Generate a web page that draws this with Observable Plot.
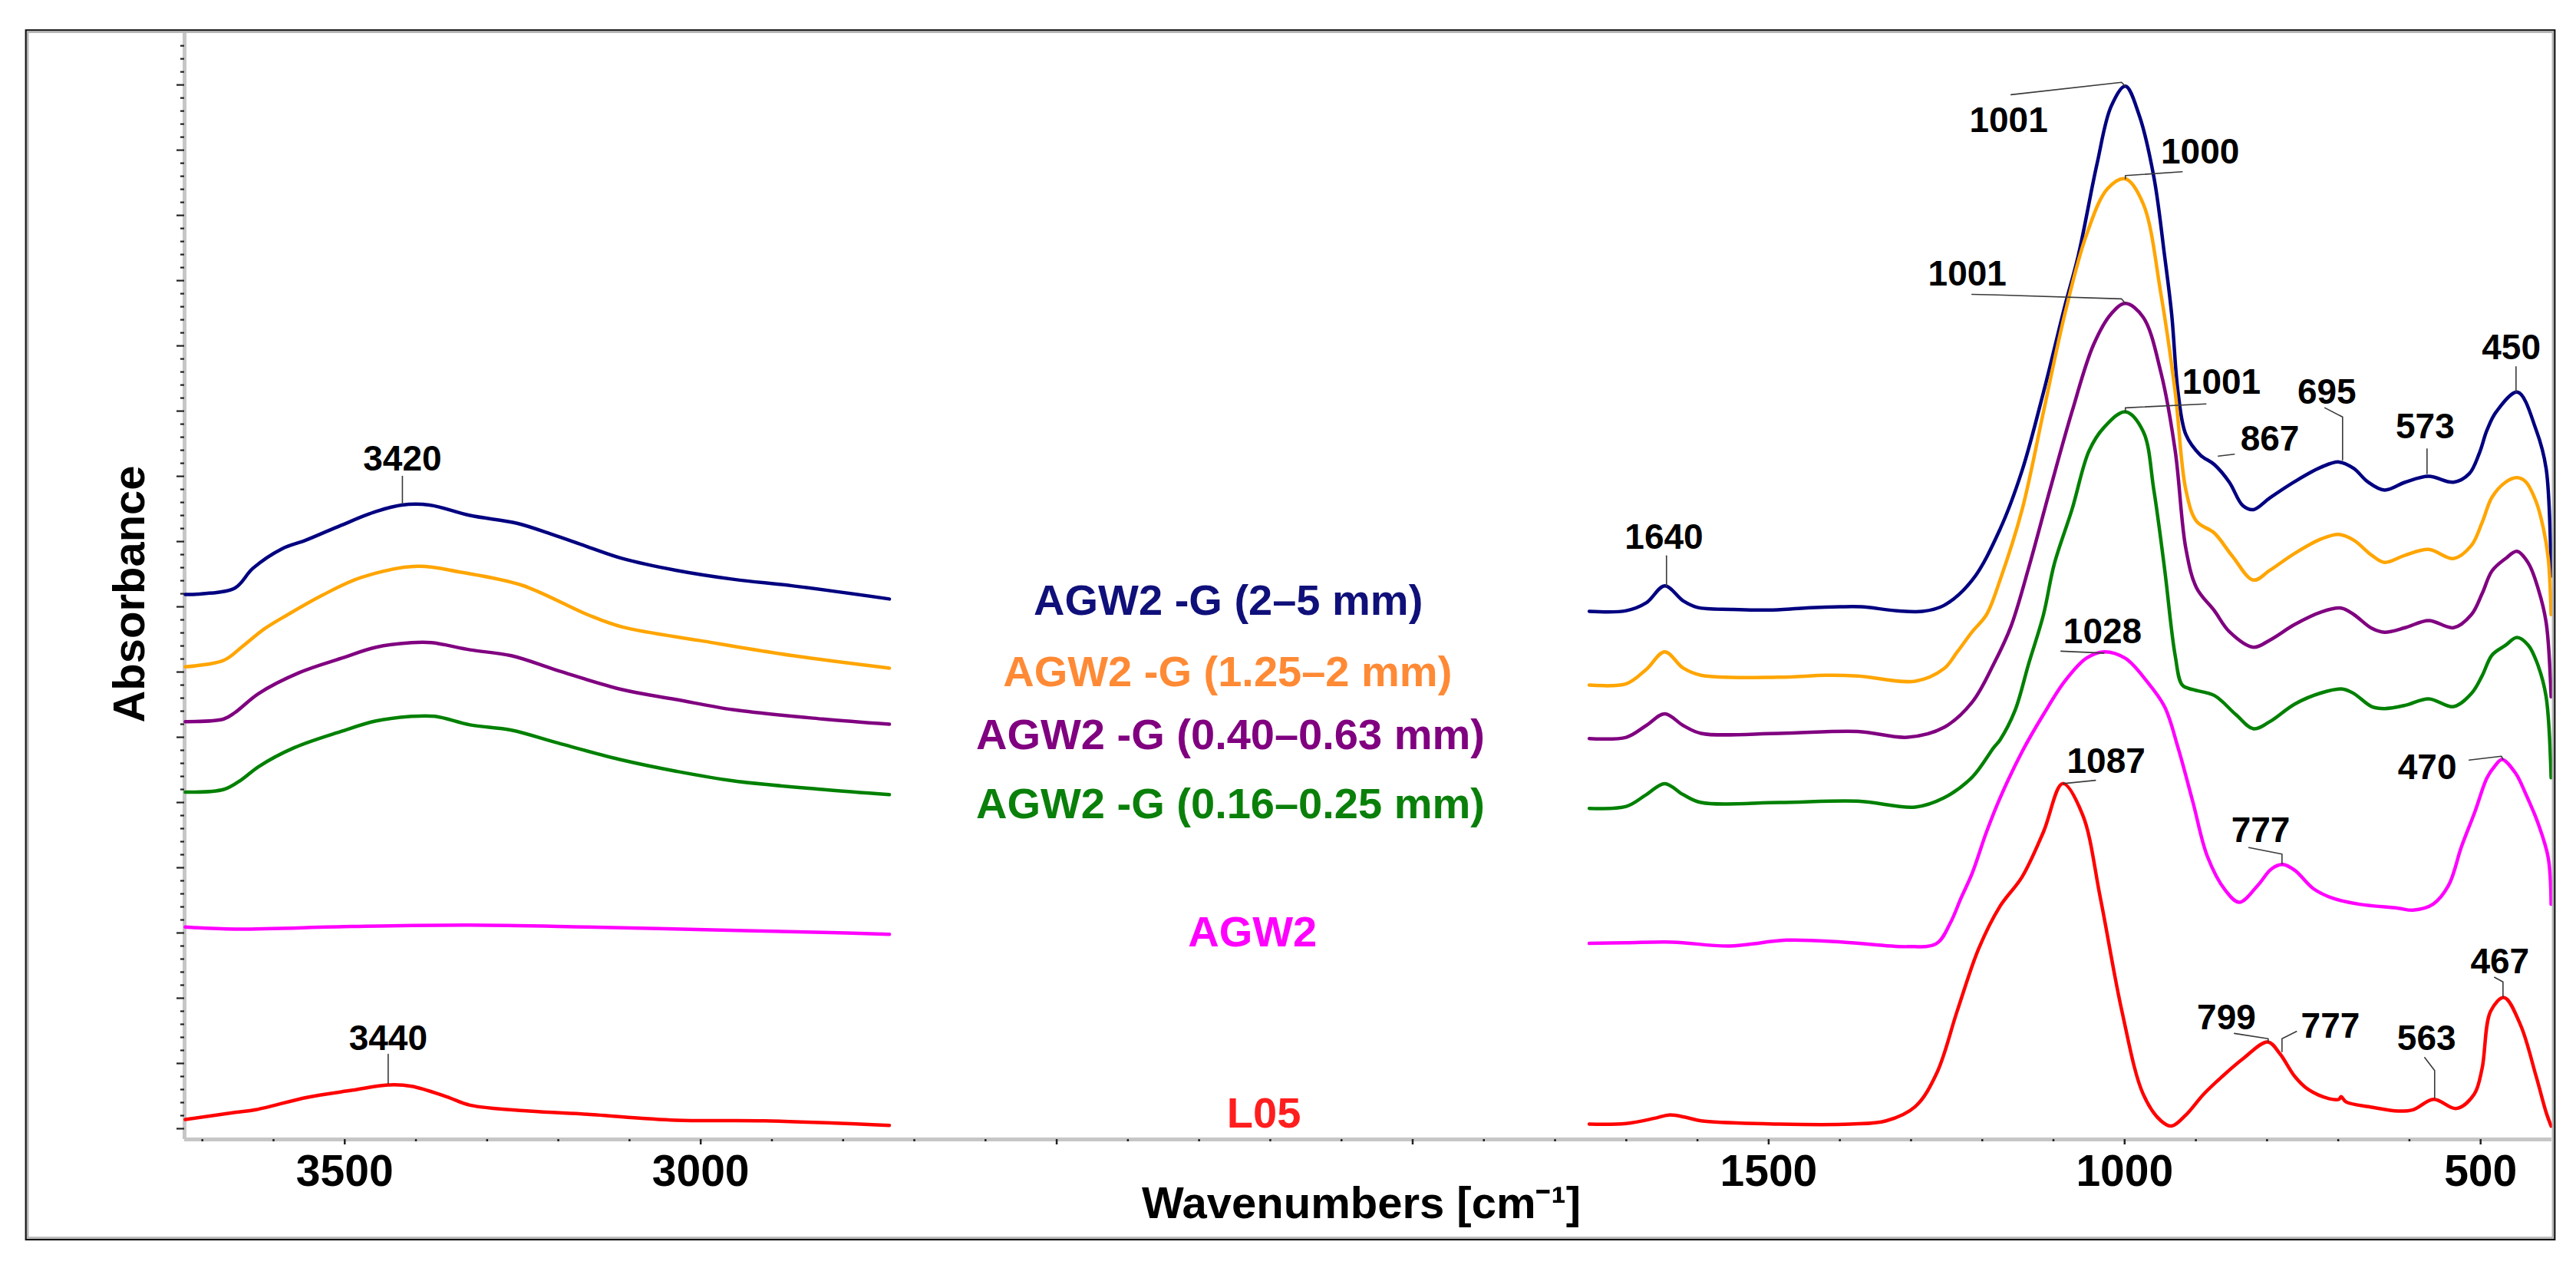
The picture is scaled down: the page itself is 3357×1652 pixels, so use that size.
<!DOCTYPE html>
<html>
<head>
<meta charset="utf-8">
<script src="https://cdn.jsdelivr.net/npm/d3@7"></script>
<script src="https://cdn.jsdelivr.net/npm/@observablehq/plot@0.6"></script>
<style>
html, body { margin: 0; padding: 0; background: #fff; }
#chart { width: 3357px; height: 1652px; }
</style>
</head>
<body>
<div id="chart"></div>
<script>
// ---------- DATA (wavenumber cm-1, absorbance in arbitrary stacked units) ----------
const seriesNames = ["AGW2 -G (2–5 mm)", "AGW2 -G (1.25–2 mm)", "AGW2 -G (0.40–0.63 mm)", "AGW2 -G (0.16–0.25 mm)", "AGW2", "L05"];

const navyLeft = [[3724,8.19],[3699,8.20],[3654,8.29],[3629,8.59],[3588,8.89],[3555,9.02],[3505,9.25],[3456,9.46],[3420,9.56],[3381,9.56],[3324,9.40],[3258,9.28],[3209,9.11],[3159,8.92],[3110,8.74],[3035,8.56],[2953,8.42],[2870,8.32],[2735,8.12]];
const navyRight = [[1752,7.93],[1700,7.94],[1672,8.06],[1646,8.32],[1620,8.09],[1600,7.99],[1550,7.96],[1500,7.95],[1450,7.98],[1400,8.00],[1370,8.00],[1320,7.94],[1284,7.93],[1254,8.02],[1214,8.41],[1175,9.19],[1144,10.09],[1114,11.29],[1084,12.61],[1065,13.39],[1039,14.78],[1019,15.67],[999,15.98],[980,15.55],[959,14.59],[944,13.39],[934,12.49],[925,11.29],[914,10.64],[894,10.33],[874,10.18],[853,9.91],[834,9.55],[819,9.49],[796,9.67],[761,9.92],[724,10.14],[699,10.22],[678,10.12],[659,9.92],[635,9.79],[606,9.91],[573,10.0],[538,9.91],[516,10.04],[502,10.35],[491,10.71],[478,10.99],[448,11.29],[422,10.71],[408,10.12],[401,8.47]];

const orangeLeft = [[3724,7.08],[3670,7.18],[3645,7.38],[3613,7.66],[3580,7.88],[3531,8.18],[3477,8.45],[3398,8.62],[3337,8.53],[3251,8.33],[3159,7.88],[3110,7.69],[2994,7.47],[2870,7.25],[2735,7.06]];
const orangeRight = [[1752,6.80],[1700,6.82],[1672,7.04],[1646,7.31],[1620,7.06],[1595,6.95],[1485,6.92],[1420,6.95],[1375,6.94],[1294,6.86],[1254,7.05],[1235,7.31],[1214,7.62],[1194,7.88],[1175,8.41],[1144,9.49],[1114,10.99],[1084,12.49],[1054,13.69],[1024,14.41],[999,14.56],[974,14.18],[949,12.79],[929,11.29],[914,9.79],[899,9.31],[874,9.13],[849,8.78],[819,8.41],[796,8.56],[761,8.82],[724,9.04],[699,9.11],[678,9.02],[653,8.79],[635,8.68],[606,8.79],[573,8.88],[538,8.74],[513,8.94],[498,9.29],[484,9.68],[465,9.91],[449,9.98],[437,9.92],[422,9.61],[412,9.21],[405,8.74],[401,7.88]];

const purpleLeft = [[3724,6.24],[3670,6.28],[3654,6.38],[3621,6.67],[3564,6.99],[3505,7.21],[3456,7.38],[3406,7.45],[3378,7.45],[3324,7.34],[3266,7.25],[3200,7.02],[3110,6.73],[3035,6.58],[2953,6.42],[2829,6.28],[2735,6.20]];
const purpleRight = [[1752,5.98],[1700,6.00],[1672,6.18],[1646,6.36],[1620,6.18],[1595,6.06],[1485,6.06],[1375,6.09],[1305,6.00],[1254,6.15],[1214,6.54],[1184,7.12],[1160,7.69],[1135,8.59],[1105,9.79],[1074,10.99],[1044,12.01],[1019,12.49],[999,12.65],[974,12.44],[949,11.59],[929,10.39],[914,8.89],[899,8.29],[874,7.94],[853,7.62],[819,7.38],[796,7.49],[761,7.73],[724,7.92],[696,7.98],[678,7.88],[653,7.67],[635,7.61],[606,7.68],[573,7.79],[538,7.68],[513,7.88],[498,8.20],[484,8.55],[465,8.74],[449,8.85],[433,8.67],[419,8.27],[408,7.76],[401,6.62]];

const greenLeft = [[3724,5.16],[3670,5.20],[3645,5.35],[3621,5.55],[3571,5.84],[3505,6.09],[3456,6.25],[3406,6.32],[3373,6.32],[3324,6.19],[3266,6.11],[3200,5.91],[3110,5.65],[3035,5.48],[2953,5.33],[2829,5.20],[2735,5.12]];
const greenRight = [[1752,4.91],[1700,4.94],[1672,5.12],[1646,5.29],[1620,5.12],[1595,5.00],[1485,5.00],[1375,5.02],[1294,4.93],[1254,5.07],[1214,5.39],[1184,5.84],[1175,5.96],[1154,6.41],[1135,7.12],[1114,7.88],[1099,8.65],[1074,9.49],[1050,10.39],[1029,10.75],[999,10.99],[974,10.69],[959,9.79],[944,8.59],[929,7.25],[919,6.80],[904,6.73],[874,6.64],[844,6.35],[819,6.13],[796,6.24],[761,6.51],[724,6.68],[694,6.74],[678,6.67],[653,6.47],[635,6.44],[606,6.49],[573,6.59],[538,6.47],[513,6.67],[498,6.94],[484,7.26],[465,7.41],[449,7.53],[433,7.41],[419,7.09],[408,6.62],[401,5.38]];

const magentaLeft = [[3724,3.09],[3654,3.06],[3489,3.10],[3324,3.12],[3159,3.09],[2994,3.05],[2829,3.01],[2735,2.98]];
const magentaRight = [[1752,2.84],[1700,2.85],[1635,2.86],[1555,2.80],[1475,2.89],[1395,2.86],[1305,2.79],[1264,2.84],[1245,3.15],[1230,3.53],[1214,3.92],[1194,4.55],[1175,5.07],[1144,5.78],[1114,6.35],[1084,6.86],[1054,7.21],[1029,7.31],[999,7.21],[969,6.86],[944,6.47],[925,5.84],[904,5.00],[884,4.18],[859,3.66],[839,3.47],[813,3.73],[794,3.98],[778,4.05],[761,3.96],[735,3.68],[707,3.53],[670,3.44],[616,3.38],[595,3.35],[567,3.44],[545,3.73],[527,4.32],[508,4.86],[491,5.38],[480,5.56],[470,5.66],[451,5.45],[437,5.14],[419,4.67],[405,4.15],[401,3.44]];

const redLeft = [[3724,0.14],[3654,0.25],[3625,0.29],[3553,0.48],[3489,0.59],[3439,0.67],[3406,0.65],[3357,0.49],[3324,0.36],[3241,0.27],[3159,0.22],[3035,0.13],[2911,0.12],[2735,0.05]];
const redRight = [[1752,0.07],[1700,0.08],[1660,0.16],[1640,0.21],[1615,0.17],[1595,0.12],[1485,0.07],[1385,0.07],[1335,0.12],[1294,0.34],[1264,0.85],[1235,1.81],[1205,2.76],[1175,3.41],[1144,3.86],[1114,4.55],[1087,5.29],[1059,4.81],[1034,3.53],[1004,1.81],[974,0.53],[949,0.12],[934,0.04],[914,0.21],[889,0.53],[864,0.79],[834,1.07],[799,1.33],[782,1.15],[761,0.80],[742,0.60],[713,0.46],[699,0.45],[696,0.49],[689,0.41],[653,0.33],[616,0.27],[595,0.29],[566,0.45],[534,0.31],[509,0.53],[498,0.92],[486,1.80],[467,2.01],[444,1.59],[422,0.80],[408,0.25],[401,0.04]];

// x-axis tick labels
const xTickLabels = [3500, 3000, 1500, 1000, 500];

// peak annotations: text, anchor wavenumber, anchor absorbance (baseline)
const peakText = ["3420","3440","1640","1001","1000","1001","1001","867","695","573","450","1028","1087","470","777","799","777","563","467"];
const peakWn   = [3419,3439,1647,1163,894,1221,864,796,716,578,457,1031,1026,575,809,857,711,576,473];
const peakAbs  = [10.09,1.20,8.89,15.28,14.80,12.92,11.26,10.39,11.11,10.58,11.80,7.44,5.45,5.36,4.40,1.52,1.39,1.20,2.38];
const leaderLines = [
  [[3419,10.0],[3419,9.58]],
  [[3439,1.14],[3439,0.69]],
  [[1643.5,8.78],[1643.5,8.32]],
  [[1159.5,15.85],[1004.3,16.04],[999,15.98]],
  [[919.2,14.67],[999,14.61],[999,14.56]],
  [[1214.5,12.79],[1178.9,12.78],[1004.3,12.72],[999,12.65]],
  [[885.8,11.11],[999,11.05],[999,10.99]],
  [[845.9,10.34],[868.5,10.31]],
  [[718.7,11.05],[693.9,10.91],[693.9,10.25]],
  [[575.3,10.42],[575.3,10.04]],
  [[450.3,11.68],[450.3,11.29]],
  [[1089.5,7.32],[1029.1,7.29]],
  [[1041,5.34],[1086.2,5.29]],
  [[516.1,5.65],[470.8,5.71],[468.6,5.66]],
  [[825.4,4.31],[779,4.21],[779,4.06]],
  [[845.9,1.46],[798.4,1.38],[798.4,1.33]],
  [[758.6,1.49],[779,1.38],[779,1.18]],
  [[578.6,1.09],[564.6,0.89],[564.6,0.47]],
  [[480.5,2.32],[468.6,2.25],[468.6,2.02]]
];

// series name label anchors (baseline)
const labelWn  = [2259, 2260, 2256, 2256, 2225, 2209];
const labelAbs = [7.88, 6.78, 5.82, 4.76, 2.79, 0.02];

// ---------- STYLES ----------
const lineColors  = ["#000080", "#FFA500", "#800080", "#008000", "#FF00FF", "#FF0000"];
const labelColors = ["#10107a", "#FF8a35", "#800080", "#0a800a", "#FF00FF", "#FF1e1e"];
const FONT = "Arial, 'Liberation Sans', Helvetica, sans-serif";

const parts = [
  [navyLeft, navyRight], [orangeLeft, orangeRight], [purpleLeft, purpleRight],
  [greenLeft, greenRight], [magentaLeft, magentaRight], [redLeft, redRight]
];

const lineMarks = [];
parts.forEach((pp, i) => {
  pp.forEach((arr, j) => {
    lineMarks.push(Plot.line(arr, {
      x: d => d[0], y: d => d[1], stroke: lineColors[i], strokeWidth: 4.5,
      curve: "catmull-rom", strokeLinejoin: "round", strokeLinecap: "round"
    }));
  });
});

const leaderData = leaderLines.flatMap((pts, k) => pts.map(p => ({wn: p[0], a: p[1], k})));
const peakData = peakText.map((t, i) => ({t, wn: peakWn[i], a: peakAbs[i]}));

const labelMarks = seriesNames.map((name, i) => Plot.text([{t: name, wn: labelWn[i], a: labelAbs[i]}], {
  x: "wn", y: "a", text: "t", fill: labelColors[i], fontSize: 56, fontWeight: "bold",
  lineAnchor: "bottom", textAnchor: "middle"
}));

const xMajor = [3500, 3000, 2500, 2000, 1500, 1000, 500];
const xMinor = d3.range(3700, 400, -100).filter(d => d % 500 !== 0);
const yMajor = d3.range(0, 17);
const yMinor = d3.range(1, 84).filter(i => i % 5 !== 0).map(i => i * 0.2);

const chart = Plot.plot({
  width: 3357, height: 1652,
  marginLeft: 240, marginRight: 32, marginTop: 43, marginBottom: 168,
  x: {domain: [3725, 400]},
  y: {domain: [-0.165, 16.79]},
  style: {fontFamily: FONT, background: "#fff", color: "#000", overflow: "visible"},
  marks: [
    Plot.ruleX([3725], {y1: -0.165, y2: 16.79, stroke: "#c6c6c6", strokeWidth: 5}),
    Plot.ruleY([-0.165], {x1: 3725, x2: 400, stroke: "#c6c6c6", strokeWidth: 5}),
    Plot.axisY({ticks: yMajor, tickSize: 10, tickFormat: () => "", stroke: "#222", strokeWidth: 2.2, label: null}),
    Plot.axisY({ticks: yMinor, tickSize: 5, tickFormat: () => "", stroke: "#222", strokeWidth: 2.2, label: null}),
    Plot.axisX({ticks: xMinor, tickSize: 3, tickFormat: () => "", stroke: "#222", strokeWidth: 2.5, label: null}),
    Plot.axisX({ticks: xMajor, tickSize: 7, tickFormat: () => "", stroke: "#222", strokeWidth: 2.5, label: null}),
    Plot.axisX({ticks: xTickLabels, tickSize: 0, tickPadding: 20, tickFormat: d => String(d),
      fontSize: 57, fontWeight: "bold", fill: "#000", label: null}),
    ...lineMarks,
    Plot.line(leaderData, {x: "wn", y: "a", z: "k", stroke: "#3a3a3a", strokeWidth: 1.6}),
    Plot.text(peakData, {x: "wn", y: "a", text: "t", fontSize: 46, fontWeight: "bold", fill: "#000",
      lineAnchor: "bottom", textAnchor: "middle"}),
    ...labelMarks,
    Plot.text(["Absorbance"], {text: d => d, frameAnchor: "left", dx: -53, dy: 10, rotate: -90,
      lineAnchor: "bottom", textAnchor: "middle", fontSize: 58, fontWeight: "bold", fill: "#000"}),
    Plot.text(["Wavenumbers [cm⁻¹]"], {text: d => d, frameAnchor: "bottom", dx: -9, dy: 102,
      lineAnchor: "bottom", textAnchor: "middle", fontSize: 58, fontWeight: "bold", fill: "#000"})
  ]
});

// outer double frame around the whole figure
const svg = d3.select(chart);
svg.append("rect").attr("x", 33.7).attr("y", 39.3).attr("width", 3295.6).attr("height", 1575.7)
  .attr("fill", "none").attr("stroke", "#111").attr("stroke-width", 2.2);
svg.append("rect").attr("x", 36.2).attr("y", 41.8).attr("width", 3290.6).attr("height", 1570.7)
  .attr("fill", "none").attr("stroke", "#b5b5b5").attr("stroke-width", 2.5);

document.getElementById("chart").appendChild(chart);
</script>
</body>
</html>
